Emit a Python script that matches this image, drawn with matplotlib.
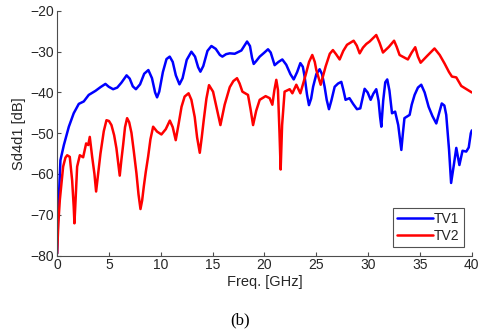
import matplotlib
matplotlib.use("Agg")
import matplotlib.pyplot as plt

# TV1 (blue) - frequency [GHz], magnitude [dB]
tv1_f = [0.0, 0.08, 0.16, 0.32, 0.65, 1.13, 1.6, 2.09, 2.57, 3.05, 3.7, 4.18, 4.66, 4.98, 5.4,
         5.8, 6.2, 6.7, 7.0, 7.3, 7.6, 8.0, 8.4, 8.8, 9.15, 9.45, 9.64, 9.85, 10.2, 10.55,
         10.86, 11.15, 11.45, 11.8, 12.1, 12.5, 12.95, 13.3, 13.6, 13.82, 14.1, 14.5, 14.88,
         15.3, 15.7, 15.94, 16.3, 16.65, 17.13, 17.77, 18.05, 18.32, 18.6, 18.8, 18.96, 19.2,
         19.54, 19.95, 20.34, 20.6, 20.98, 21.35, 21.72, 22.1, 22.5, 22.82, 23.15, 23.46,
         23.7, 23.87, 24.1, 24.29, 24.5, 24.69, 25.0, 25.32, 25.55, 25.8, 26.0, 26.22, 26.45,
         26.77, 27.1, 27.41, 27.62, 27.82, 28.2, 28.55, 28.92, 29.24, 29.45, 29.66, 29.95,
         30.24, 30.5, 30.78, 31.0, 31.15, 31.27, 31.45, 31.65, 31.84, 32.05, 32.3, 32.6, 32.9,
         33.2, 33.35, 33.5, 34.0, 34.2, 34.48, 34.8, 35.12, 35.45, 35.83, 36.2, 36.57, 36.85,
         37.1, 37.35, 37.53, 37.8, 38.0, 38.25, 38.5, 38.8, 39.1, 39.46, 39.7, 39.9, 40.0]
tv1_db = [-79.5, -72.0, -66.4, -56.6, -52.9, -48.4, -45.1, -42.8, -42.2, -40.6, -39.6, -38.7,
          -37.9, -38.6, -39.2, -38.8, -37.6, -35.8, -36.6, -38.5, -39.2, -38.0, -35.4, -34.5,
          -36.5, -40.0, -41.2, -39.8, -35.0, -31.8, -31.2, -32.5, -35.8, -38.0, -36.5, -32.0,
          -30.0, -31.2, -33.8, -34.9, -33.5, -29.8, -28.6, -29.3, -30.8, -31.2, -30.6, -30.4,
          -30.5, -29.7, -28.6, -27.5, -28.6, -31.5, -33.0, -32.3, -31.2, -30.3, -29.4, -30.2,
          -33.3, -32.5, -31.9, -33.2, -35.5, -36.8, -35.0, -32.8, -33.7, -36.1, -40.5, -43.1,
          -41.5, -38.6, -35.5, -34.3, -35.5, -38.6, -41.8, -44.1, -42.0, -38.6, -37.8, -37.4,
          -39.5, -41.8, -41.4, -42.8, -44.1, -43.9, -41.5, -39.1, -40.0, -41.8, -40.3, -39.2,
          -42.0, -46.0, -48.4, -42.0, -37.5, -36.8, -39.5, -45.1, -44.7, -48.0, -54.1, -50.0,
          -46.3, -45.5, -43.0, -40.6, -38.8, -38.1, -40.0, -43.5, -45.8, -47.6, -45.0, -42.7,
          -43.2, -45.5, -54.0, -62.2, -58.0, -53.6, -57.8, -54.3, -54.5, -53.5, -50.0, -49.3]

# TV2 (red)
tv2_f = [0.0, 0.12, 0.26, 0.58, 0.8, 0.97, 1.22, 1.45, 1.6, 1.67, 1.75, 1.93, 2.19, 2.51, 2.8,
         3.0, 3.15, 3.38, 3.6, 3.76, 3.95, 4.18, 4.5, 4.76, 5.0, 5.24, 5.5, 5.72, 6.04, 6.2,
         6.37, 6.55, 6.75, 6.95, 7.17, 7.4, 7.65, 7.85, 8.04, 8.2, 8.36, 8.55, 8.78, 9.0, 9.26,
         9.64, 10.06, 10.48, 10.87, 11.15, 11.44, 11.7, 12.0, 12.3, 12.68, 12.95, 13.27, 13.5,
         13.76, 13.95, 14.14, 14.4, 14.65, 15.04, 15.4, 15.75, 16.16, 16.65, 17.0, 17.35, 17.6,
         17.87, 18.41, 18.65, 18.9, 19.2, 19.54, 20.11, 20.5, 20.76, 20.95, 21.14, 21.3, 21.45,
         21.56, 21.7, 21.94, 22.43, 22.69, 23.07, 23.46, 23.97, 24.3, 24.61, 24.85, 25.0,
         25.42, 25.9, 26.3, 26.6, 26.9, 27.25, 27.6, 27.96, 28.6, 28.9, 29.18, 29.5, 29.82,
         30.14, 30.5, 30.78, 31.1, 31.43, 32.0, 32.5, 32.75, 33.03, 33.83, 34.2, 34.54, 34.8,
         35.06, 35.7, 36.4, 36.9, 37.37, 37.8, 38.08, 38.5, 38.98, 39.5, 40.0]
tv2_db = [-79.5, -72.0, -66.4, -58.2, -56.0, -55.4, -55.8, -61.6, -68.0, -72.1, -68.0, -58.2,
          -55.4, -55.9, -52.5, -52.9, -50.9, -55.8, -60.0, -64.3, -60.0, -55.0, -49.5, -46.8,
          -47.0, -48.0, -50.5, -53.7, -60.4, -56.5, -52.8, -48.5, -46.3, -47.3, -49.9, -54.5,
          -59.8, -65.0, -68.6, -66.5, -63.1, -59.5, -55.7, -51.5, -48.4, -49.6, -50.3, -49.0,
          -46.9, -48.5, -51.7, -48.0, -43.5, -41.0, -40.2, -41.8, -46.0, -51.0, -54.8, -51.0,
          -46.8, -41.5, -38.2, -39.8, -44.0, -48.0, -43.0, -38.7, -37.2, -36.5, -37.8, -39.8,
          -40.6, -44.0, -48.0, -44.5, -41.8, -40.9, -41.4, -43.0, -39.5, -36.9, -39.4, -50.0,
          -58.9, -48.0, -39.8, -39.2, -40.2, -38.1, -40.2, -35.7, -32.5, -30.8, -32.5, -34.5,
          -38.1, -33.6, -30.5, -29.6, -30.6, -31.9, -29.8, -28.3, -27.3, -28.5, -30.4, -29.0,
          -28.1, -27.5, -26.6, -25.9, -27.8, -30.2, -28.8, -27.3, -28.8, -30.8, -31.9, -30.2,
          -28.9, -31.2, -32.7, -31.0, -29.2, -30.8, -32.9, -35.0, -36.1, -36.3, -38.4, -39.2,
          -40.0]

x_ticks = [0, 5, 10, 15, 20, 25, 30, 35, 40]
y_ticks = [-80, -70, -60, -50, -40, -30, -20]

plt.rcParams['font.family'] = ['Liberation Sans', 'DejaVu Sans']

fig = plt.figure(figsize=(4.8, 3.32), dpi=100)
ax = fig.add_axes([0.119, 0.2304, 0.864, 0.7366])

ax.plot(tv1_f, tv1_db, color='#0000ff', lw=1.8, label='TV1',
        solid_joinstyle='round', solid_capstyle='round')
ax.plot(tv2_f, tv2_db, color='#ff0000', lw=1.8, label='TV2',
        solid_joinstyle='round', solid_capstyle='round')

ax.set_xlim(0, 40)
ax.set_ylim(-80, -20)
ax.set_xticks(x_ticks)
ax.set_yticks(y_ticks)

axis_col = '#262626'
for s in ['top', 'right']:
    ax.spines[s].set_visible(False)
for s in ['left', 'bottom']:
    ax.spines[s].set_color('#4d4d4d')
    ax.spines[s].set_linewidth(0.8)
ax.tick_params(direction='in', length=3, width=0.8, color='#4d4d4d',
               labelsize=10, labelcolor=axis_col, pad=2)

ax.set_xlabel('Freq. [GHz]', fontsize=10.5, color=axis_col, labelpad=2)
ax.set_ylabel('Sd4d1 [dB]', fontsize=10.5, color=axis_col, labelpad=3)

leg = ax.legend(loc='lower right', bbox_to_anchor=(0.981, 0.036), fontsize=10,
                frameon=True, fancybox=False, borderpad=0.3, handlelength=2.6,
                handletextpad=0.1, labelspacing=0.2, borderaxespad=0)
leg.get_frame().set_edgecolor('#262626')
leg.get_frame().set_linewidth(0.8)
for t in leg.get_texts():
    t.set_color(axis_col)

fig.text(0.5, 0.012, '(b)', fontsize=12, family='Liberation Serif',
         ha='center', va='bottom', color='black')

fig.savefig('out.png', dpi=100)
